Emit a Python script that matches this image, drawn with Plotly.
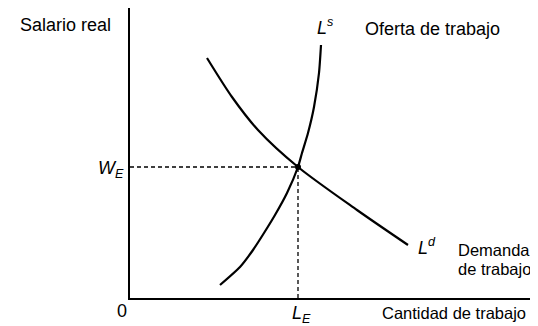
import plotly.graph_objects as go

# Supply curve (L^s)
supply_x = [90, 110, 123, 134, 145, 157, 168, 172, 178, 184, 189, 191]
supply_y = [13, 31, 48, 65, 83, 105, 131, 145, 165, 191, 225, 253]
# Demand curve (L^d)
demand_x = [77, 102, 128, 168, 227, 278]
demand_y = [240, 201, 168, 131, 88, 53]
# Equilibrium
eq_x = [168]
eq_y = [131]

X_MAX, Y_MAX = 408, 290
# screenshot pixel of plot origin (page body has an 8px margin)
L, B = 130, 298


def px(xp, yp):
    return (xp - L) / X_MAX, (B - yp) / Y_MAX


fig = go.Figure()
fig.add_trace(go.Scatter(x=supply_x, y=supply_y, mode="lines",
                         line=dict(color="black", width=2.2, shape="spline", smoothing=0.6),
                         hoverinfo="skip"))
fig.add_trace(go.Scatter(x=demand_x, y=demand_y, mode="lines",
                         line=dict(color="black", width=2.2, shape="spline", smoothing=0.8),
                         hoverinfo="skip"))
fig.add_trace(go.Scatter(x=[0, eq_x[0]], y=[eq_y[0], eq_y[0]], mode="lines",
                         line=dict(color="black", width=1.3, dash="4px,3px"), hoverinfo="skip"))
fig.add_trace(go.Scatter(x=[eq_x[0], eq_x[0]], y=[0, eq_y[0]], mode="lines",
                         line=dict(color="black", width=1.3, dash="4px,3px"), hoverinfo="skip"))
fig.add_trace(go.Scatter(x=eq_x, y=eq_y, mode="markers",
                         marker=dict(color="black", size=6), hoverinfo="skip"))

font = dict(family="Liberation Sans, Arial, sans-serif", size=18, color="black")
small = dict(family="Liberation Sans, Arial, sans-serif", size=16.5, color="black")
ital = dict(family="Liberation Sans, Arial, sans-serif", size=18, color="black")

labels = [
    (18, 25, "Salario real", "left", font),
    (325, 26, "<i>L</i><sup><i>s</i></sup>", "center", ital),
    (363, 29, "Oferta de trabajo", "left", font),
    (126, 169, "<i>W</i><sub><i>E</i></sub>", "right", ital),
    (122, 311, "0", "center", font),
    (301, 314, "<i>L</i><sub><i>E</i></sub>", "center", ital),
    (427, 246, "<i>L</i><sup><i>d</i></sup>", "center", ital),
    (456, 250, "Demanda", "left", small),
    (456, 269, "de trabajo", "left", small),
    (380, 313, "Cantidad de trabajo", "left", small),
]
ann = []
for x, y, t, xa, f in labels:
    ax, ay = px(x, y)
    ann.append(dict(x=ax, y=ay, text=t, xanchor=xa, yanchor="middle",
                    xref="paper", yref="paper", showarrow=False, font=f))

fig.update_layout(
    width=530, height=318,
    margin=dict(l=122, r=0, t=0, b=28),
    paper_bgcolor="white", plot_bgcolor="white",
    showlegend=False,
    annotations=ann,
    xaxis=dict(range=[0, X_MAX], showgrid=False, zeroline=False, showticklabels=False,
               ticks="", showline=True, linecolor="black", linewidth=2),
    yaxis=dict(range=[0, Y_MAX], showgrid=False, zeroline=False, showticklabels=False,
               ticks="", showline=True, linecolor="black", linewidth=2),
)
fig.write_html("out.html")
